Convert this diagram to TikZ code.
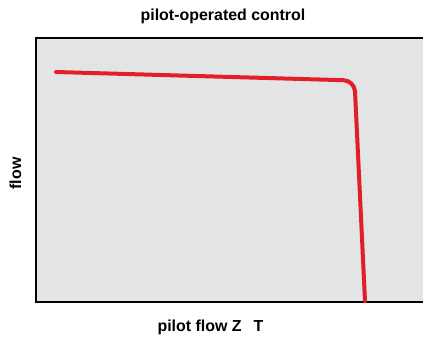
\documentclass[tikz,border=0pt]{standalone}
\usepackage{fontspec}
\setmainfont{Liberation Sans}
\definecolor{plotgray}{HTML}{E3E4E6}
\definecolor{curvered}{HTML}{E31E2A}
\begin{document}
\begin{tikzpicture}[x=1bp,y=-1bp,
  lbl/.style={font=\bfseries\fontsize{16}{18}\selectfont, inner sep=0pt},
  curve/.style={draw=curvered, line width=4bp, line cap=round, rounded corners=11bp}]
\useasboundingbox (0,0) rectangle (423,338);
\begin{scope}
\clip (0,0) rectangle (423,338);
\node[draw=black, line width=1.6bp, fill=plotgray, anchor=north west, minimum width=400bp, minimum height=264bp, inner sep=0pt] (plot) at (35,37) {};
\coordinate (c0) at (56,72);
\coordinate (c1) at (354.5,80.5);
\coordinate (c2) at (365,301);
\draw[curve] (c0) -- (c1) -- (c2);
\end{scope}
\node[lbl] (title) at (223,16) {pilot-operated control};
\node[lbl] (xlabel) at (210.5,327) {pilot flow Z\hspace{12bp}T};
\node[lbl, rotate=90] (ylabel) at (15.5,173.5) {flow};
\end{tikzpicture}
\end{document}
